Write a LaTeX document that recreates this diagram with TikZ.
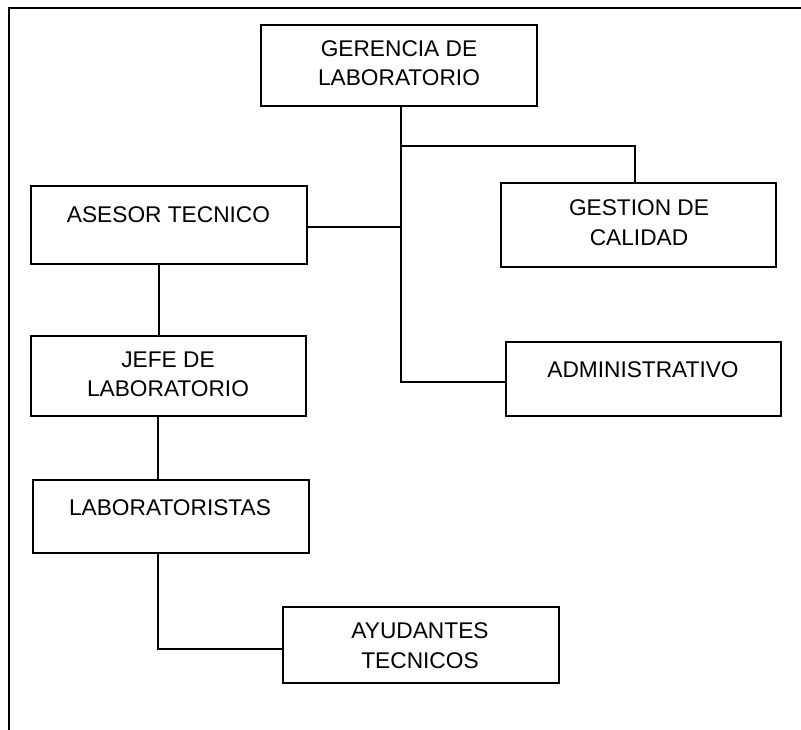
\documentclass[tikz,border=0pt]{standalone}
\usepackage{fontspec}
\setmainfont{Liberation Sans}
\begin{document}
\begin{tikzpicture}[x=1pt,y=-1pt,
  box/.style={draw,line width=2pt,rectangle,inner sep=0pt},
  txt/.style={anchor=base,inner sep=0pt,font=\fontsize{22.7}{29.5}\selectfont},
  conn/.style={line width=2pt}]
\useasboundingbox (0,0) rectangle (801,730);
% frame
\coordinate (f1) at (801,8);
\coordinate (f2) at (9,8);
\coordinate (f3) at (9,730);
\draw[line width=2pt] (f1) -- (f2) -- (f3);
% boxes
\node[box,minimum width=276pt,minimum height=81pt] (ger) at (399,65.5) {};
\node[box,minimum width=276pt,minimum height=78pt] (ase) at (169,225) {};
\node[box,minimum width=275pt,minimum height=84pt] (ges) at (638.5,225) {};
\node[box,minimum width=275pt,minimum height=74pt] (adm) at (643.5,379) {};
\node[box,minimum width=275pt,minimum height=80pt] (jef) at (168.5,376) {};
\node[box,minimum width=276pt,minimum height=73pt] (lab) at (171,516.5) {};
\node[box,minimum width=276pt,minimum height=76pt] (ayu) at (421,645) {};
% texts
\node[txt] (t1) at (399,56.1) {GERENCIA DE};
\node[txt] (t2) at (399,85.6) {LABORATORIO};
\node[txt] (t3) at (168.5,222.1) {ASESOR TECNICO};
\node[txt] (t4) at (639,215.1) {GESTION DE};
\node[txt] (t5) at (639,245.1) {CALIDAD};
\node[txt] (t6) at (168,367.1) {JEFE DE};
\node[txt] (t7) at (168,396.1) {LABORATORIO};
\node[txt] (t8) at (643,377.1) {ADMINISTRATIVO};
\node[txt] (t9) at (170,515.1) {LABORATORISTAS};
\node[txt] (t10) at (420,638.1) {AYUDANTES};
\node[txt] (t11) at (420,668.1) {TECNICOS};
% connectors
\coordinate (br) at ([xshift=2pt]ger.south |- 0,146);
\coordinate (ad) at ([yshift=-3pt]adm.west);
\draw[conn] ([xshift=2pt]ger.south) |- (ad);
\draw[conn] (br) -| ([xshift=-4pt]ges.north);
\draw[conn] ([yshift=-2pt]ase.east) -- ([yshift=-2pt]ase.east -| br);
\draw[conn] ([xshift=-10pt]ase.south) -- ([xshift=-10pt]ase.south |- jef.north);
\draw[conn] ([xshift=-11pt]jef.south) -- ([xshift=-11pt]jef.south |- lab.north);
\draw[conn] ([xshift=-13pt]lab.south) |- ([yshift=-4pt]ayu.west);
\end{tikzpicture}
\end{document}
